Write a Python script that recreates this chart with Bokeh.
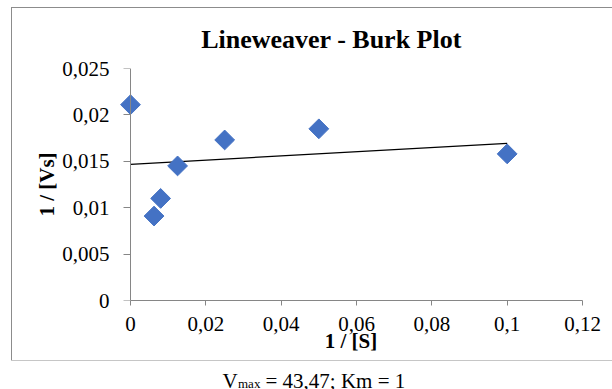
import numpy as np
from bokeh.plotting import figure
from bokeh.models import (Range1d, FixedTicker, CustomJSTickFormatter, Label, Spacer,
                          LinearAxis)
from bokeh.layouts import column, row
from bokeh.embed import file_html
from bokeh.resources import INLINE

# ---- data ----
inv_s = [0.0, 0.00625, 0.008, 0.0125, 0.025, 0.05, 0.1]
inv_v = [0.0211, 0.0091, 0.0110, 0.0145, 0.0173, 0.0185, 0.0158]

x_ticks = [0, 0.02, 0.04, 0.06, 0.08, 0.1, 0.12]
x_tick_labels = ["0", "0,02", "0,04", "0,06", "0,08", "0,1", "0,12"]
y_ticks = [0, 0.005, 0.01, 0.015, 0.02, 0.025]
y_tick_labels = ["0", "0,005", "0,01", "0,015", "0,02", "0,025"]

title_text = "Lineweaver - Burk Plot"
x_label = "1 / [S]"
y_label = "1 / [Vs]"
caption_main = "V"
caption_sub = "max"
caption_rest = "= 43,47; Km = 1"

FONT = "Liberation Serif"
AXIS_GRAY = "#868686"
BOX_GRAY = "#8c8c8c"

OX, OY = 12, 8          # page position of the bordered box contents
BW = 600                # box contents width
TH = 50                 # title strip height
H = 302                 # chart height (below the title strip)
FRAME_LEFT = 119        # page x of the frame's left edge (a little left of x=0)
X0_PAGE = 130           # page x where the y axis (x = 0) sits
px_per_unit = (582 - X0_PAGE) / x_ticks[-1]
x_start = -(X0_PAGE - FRAME_LEFT) / px_per_unit


def blank_fig(w, h):
    f = figure(width=w, height=h, output_backend="svg", toolbar_location=None,
               x_range=Range1d(0, w), y_range=Range1d(0, h), title=None,
               min_border_left=0, min_border_right=0, min_border_top=0,
               min_border_bottom=0, frame_align=False)
    f.axis.visible = False
    f.grid.visible = False
    f.outline_line_color = None
    f.background_fill_color = "white"
    f.border_fill_color = "white"
    return f


# ---- title strip ----
tf = blank_fig(BW, TH)
tf.add_layout(Label(x=331 - OX, y=(OY + TH) - 39, x_units="screen", y_units="screen",
                    text=title_text, text_align="center", text_baseline="alphabetic",
                    text_font=FONT, text_font_size="26px", text_font_style="bold",
                    text_color="black"))

# ---- chart ----
top = OY + TH
p = figure(width=BW, height=H, output_backend="svg", toolbar_location=None, title=None,
           x_range=Range1d(x_start, x_ticks[-1]), y_range=Range1d(0, y_ticks[-1]),
           min_border_left=FRAME_LEFT - OX, min_border_right=30,
           min_border_top=68 - top, min_border_bottom=(top + H) - 300,
           frame_align=False)
p.outline_line_color = None
p.grid.visible = False
p.background_fill_color = "white"
p.border_fill_color = "white"

# trend line (least squares fit of the data)
slope, intercept = np.polyfit(inv_s, inv_v, 1)
xl = [min(inv_s), max(inv_s)]
p.line(xl, [intercept + slope * v for v in xl], line_color="black", line_width=1.3)

p.scatter(inv_s, inv_v, marker="square", size=14, angle=np.pi / 4,
          fill_color="#4472C4", line_color="#4472C4")


def fmt(ticks, labels):
    return CustomJSTickFormatter(args=dict(t=ticks, l=labels), code="""
        let best = 0, d = 1e9;
        for (let i = 0; i < t.length; i++) {
            const dd = Math.abs(t[i] - tick);
            if (dd < d) { d = dd; best = i; }
        }
        return l[best];
    """)


for ax, ticks, labels, lab in ((p.xaxis, x_ticks, x_tick_labels, x_label),
                               (p.yaxis, y_ticks, y_tick_labels, y_label)):
    ax.ticker = FixedTicker(ticks=ticks)
    ax.formatter = fmt(ticks, labels)
    ax.minor_tick_line_color = None
    ax.major_tick_in = 0
    ax.axis_line_color = AXIS_GRAY
    ax.major_tick_line_color = AXIS_GRAY
    ax.major_label_text_font = FONT
    ax.major_label_text_font_size = "21px"
    ax.major_label_text_color = "black"
    ax.axis_label = lab
    ax.axis_label_text_font = FONT
    ax.axis_label_text_font_size = "21px"
    ax.axis_label_text_font_style = "bold"
    ax.axis_label_text_color = "black"

p.xaxis.bounds = (0, x_ticks[-1])
p.xaxis.major_tick_out = 5
p.xaxis.major_label_standoff = 11
p.xaxis.axis_label_standoff = -5

# the side y axis carries the tick labels and the axis title ...
p.yaxis.axis_line_color = None
p.yaxis.major_tick_line_color = None
p.yaxis.major_tick_out = 0
p.yaxis.major_label_standoff = 10
p.yaxis.axis_label_standoff = 0

# ... while the axis line and tick marks sit at x = 0
y_line = LinearAxis(fixed_location=0, ticker=FixedTicker(ticks=y_ticks),
                    formatter=CustomJSTickFormatter(code="return ''"),
                    axis_line_color=AXIS_GRAY, major_tick_line_color=AXIS_GRAY,
                    minor_tick_line_color=None, major_tick_in=0, major_tick_out=7)
p.add_layout(y_line, "left")

box = column(tf, p)
box.styles = {"outline": f"1.5px solid {BOX_GRAY}"}

# ---- caption below the box ----
cap_top = top + H
CH = 389 - cap_top
cap = blank_fig(612, CH)
cx = 222
cap.add_layout(Label(x=cx, y=CH - (380.5 - cap_top), x_units="screen", y_units="screen",
                     text=caption_main, text_align="left", text_baseline="alphabetic",
                     text_font=FONT, text_font_size="21px", text_color="black"))
cap.add_layout(Label(x=cx + 15.5, y=CH - (383 - cap_top), x_units="screen", y_units="screen",
                     text=caption_sub, text_align="left", text_baseline="alphabetic",
                     text_font=FONT, text_font_size="13px", text_color="black"))
cap.add_layout(Label(x=cx + 43, y=CH - (380.5 - cap_top), x_units="screen", y_units="screen",
                     text=caption_rest, text_align="left", text_baseline="alphabetic",
                     text_font=FONT, text_font_size="21px", text_color="black"))

layout = column(Spacer(width=612, height=OY),
                row(Spacer(width=OX, height=TH + H), box),
                cap)

open("out.html", "w").write(file_html(layout, INLINE))
